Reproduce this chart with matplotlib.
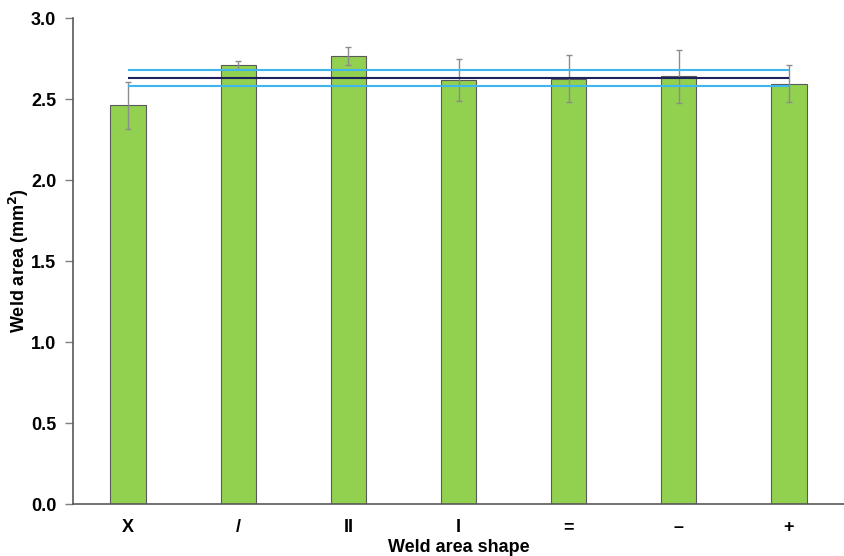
import numpy as np
import matplotlib.pyplot as plt

# Weld area per shape, with standard deviations
shapes = ['X', '/', 'II', 'I', '=', '\u2013', '+']
weld_area = [2.46, 2.71, 2.765, 2.62, 2.625, 2.64, 2.595]
weld_sd = [0.145, 0.025, 0.055, 0.13, 0.145, 0.165, 0.115]

# Overall mean and band
mean_area = 2.63
band_upper = 2.68
band_lower = 2.582

plt.rcParams.update({'font.family': 'Liberation Sans', 'font.size': 12, 'font.weight': 'bold'})
fig = plt.figure(figsize=(8.44, 5.56), dpi=100)
ax = fig.add_axes([0.0865, 0.0935, 0.9135, 0.8741])

x = np.arange(len(shapes))
ax.bar(x, weld_area, width=0.32, color='#92D050', edgecolor='#5a5a5a', linewidth=0.8, zorder=2)
ax.errorbar(x, weld_area, yerr=weld_sd, fmt='none', ecolor='#8c8c8c', elinewidth=1.0,
            capsize=2.5, capthick=1.0, zorder=3)

ax.hlines(band_upper, x[0], x[-1], color='#3DB7EE', linewidth=1.5, zorder=4)
ax.hlines(mean_area, x[0], x[-1], color='#1C2260', linewidth=1.5, zorder=4)
ax.hlines(band_lower, x[0], x[-1], color='#3DB7EE', linewidth=1.5, zorder=4)

ax.set_xlim(-0.5, len(shapes) - 0.5)
ax.set_ylim(0, 3.0)
ax.set_yticks(np.arange(0, 3.01, 0.5))
ax.set_yticklabels([f'{v:.1f}' for v in np.arange(0, 3.01, 0.5)], fontsize=13, fontweight='bold')
ax.set_xticks(x)
ax.set_xticklabels(shapes, fontsize=13, fontweight='bold')
ax.tick_params(axis='x', length=0, pad=11)
ax.tick_params(axis='y', length=6, width=1, color='#7f7f7f', pad=6)

for side in ['top', 'right']:
    ax.spines[side].set_visible(False)
for side in ['left', 'bottom']:
    ax.spines[side].set_color('#595959')
    ax.spines[side].set_linewidth(1.2)

ax.set_xlabel('Weld area shape', fontsize=13, fontweight='bold')
ax.set_ylabel('Weld area (mm$^\\mathbf{2}$)', fontsize=13, fontweight='bold')
ax.xaxis.set_label_coords(0.5, -0.071)
ax.yaxis.set_label_coords(-0.054, 0.5)

fig.savefig('out.png', dpi=100)
